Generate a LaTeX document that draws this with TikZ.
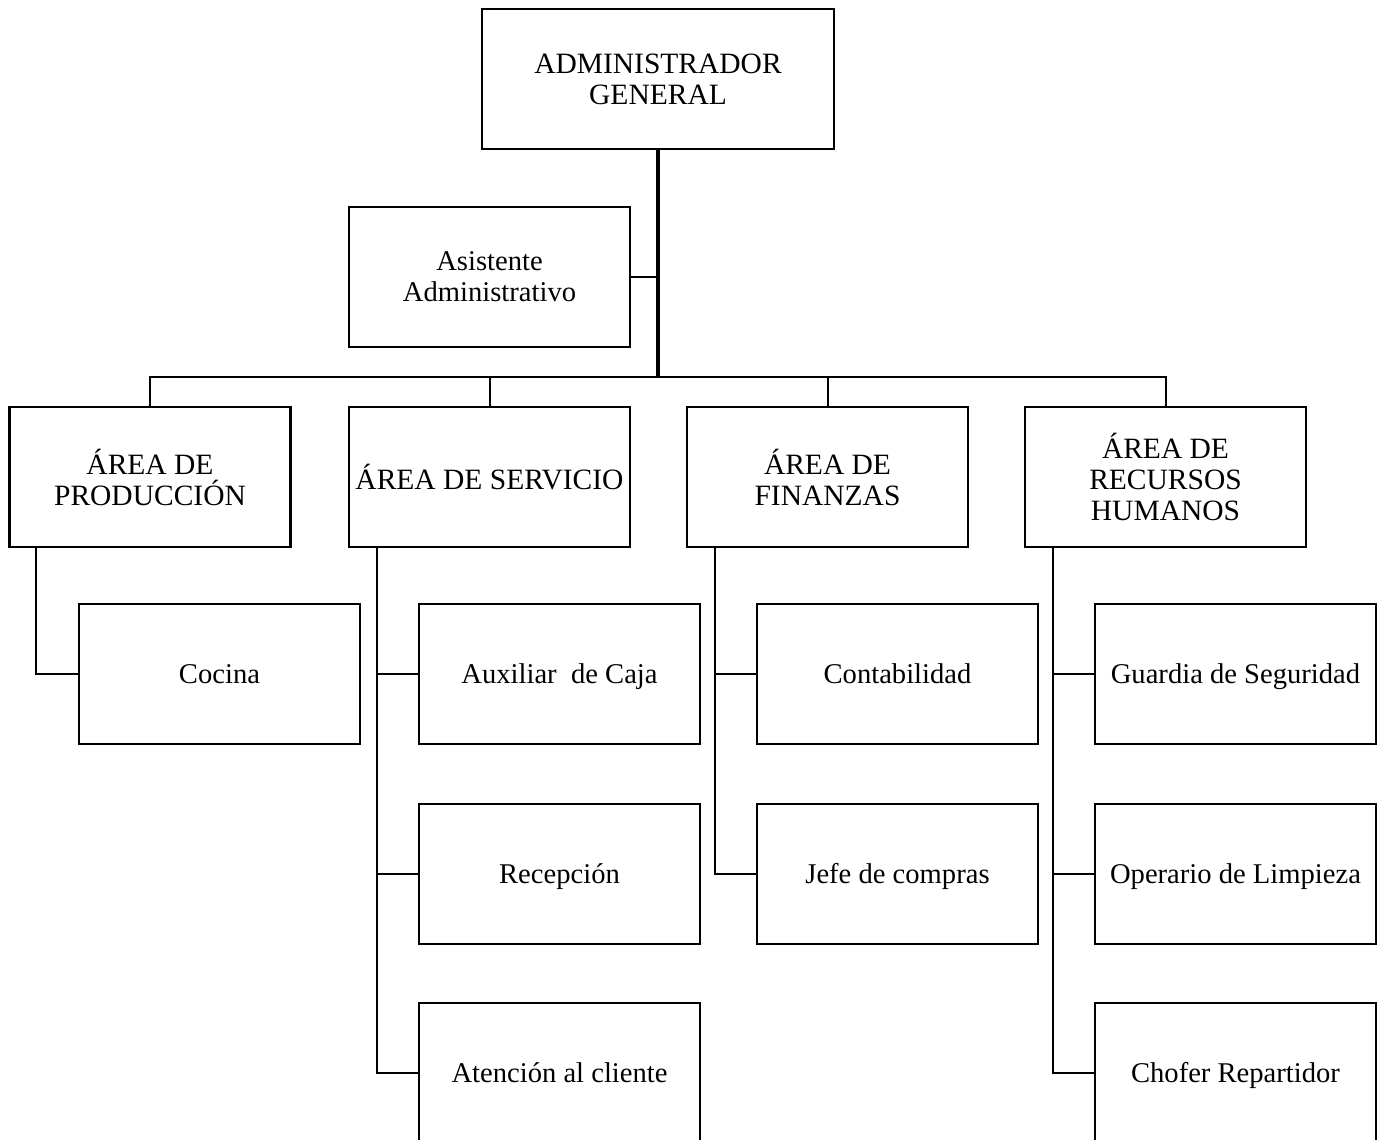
\documentclass[tikz,border=0pt]{standalone}
\usepackage{fontspec}
\setmainfont{Liberation Serif}
\begin{document}
\begin{tikzpicture}[x=1pt,y=-1pt,
  box/.style={draw,line width=2.5pt,minimum width=281pt,minimum height=140pt,inner sep=0pt,align=center,font=\fontsize{29.5}{31}\selectfont},
  sub/.style={box,font=\fontsize{28.6}{31}\selectfont},
  leaf/.style={sub,text height=19.5pt,text depth=0pt},
  link/.style={line width=2pt},
  trunk/.style={line width=3.2pt}]
\useasboundingbox (0,0) rectangle (1384,1140);
% top
\node[box,minimum width=352pt] (adm) at (658,79) {ADMINISTRADOR\\GENERAL};
\node[sub] (asi) at (489.5,277) {Asistente\\Administrativo};
% areas
\node[box] (prod) at (150,477) {ÁREA DE\\PRODUCCIÓN};
\node[box] (serv) at (489.5,477) {ÁREA DE SERVICIO};
\node[box] (fin) at (827.5,477) {ÁREA DE\\FINANZAS};
\node[box] (rrhh) at (1165.5,477) {ÁREA DE\\RECURSOS\\HUMANOS};
% children
\node[leaf] (coc) at (219.5,674) {Cocina};
\node[leaf] (aux) at (559.5,674) {Auxiliar~ de Caja};
\node[leaf] (rec) at (559.5,874) {Recepción};
\node[leaf] (aten) at (559.5,1073) {Atención al cliente};
\node[leaf] (cont) at (897.5,674) {Contabilidad};
\node[leaf] (jefe) at (897.5,874) {Jefe de compras};
\node[leaf] (guar) at (1235.5,674) {Guardia de Seguridad};
\node[leaf] (oper) at (1235.5,874) {Operario de Limpieza};
\node[leaf] (chof) at (1235.5,1073) {Chofer Repartidor};
% trunk
\coordinate (bus) at (658,377);
\draw[trunk] (adm.south) -- (bus);
\draw[link] (asi.east) -- (asi.east -| adm.south);
\draw[link] (prod.north) |- (bus) -| (rrhh.north);
\draw[link] (serv.north) -- (serv.north |- bus);
\draw[link] (fin.north) -- (fin.north |- bus);
% branches
\coordinate (pb) at ([xshift=28pt]prod.south west);
\draw[link] (pb) |- (coc.west);
\coordinate (sb) at ([xshift=29pt]serv.south west);
\draw[link] (sb) |- (aten.west);
\draw[link] (aux.west) -- (aux.west -| sb);
\draw[link] (rec.west) -- (rec.west -| sb);
\coordinate (fb) at ([xshift=29pt]fin.south west);
\draw[link] (fb) |- (jefe.west);
\draw[link] (cont.west) -- (cont.west -| fb);
\coordinate (rb) at ([xshift=29pt]rrhh.south west);
\draw[link] (rb) |- (chof.west);
\draw[link] (guar.west) -- (guar.west -| rb);
\draw[link] (oper.west) -- (oper.west -| rb);
\end{tikzpicture}
\end{document}
